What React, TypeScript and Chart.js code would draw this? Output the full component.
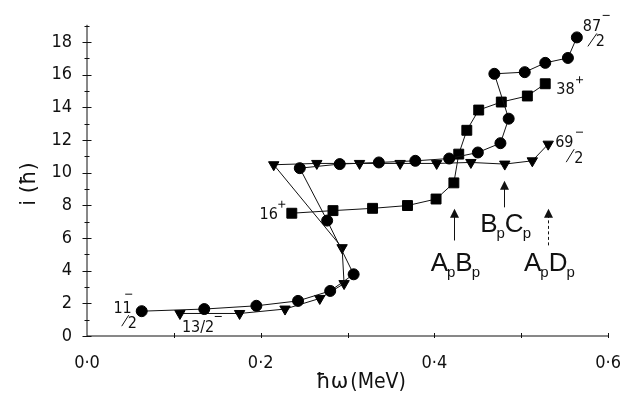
import React, { useEffect, useRef } from "react";
import { Chart, registerables } from "chart.js";

Chart.register(...registerables);

// ---- Data (alignment curves) ----
const circleX = [0.063, 0.135, 0.195, 0.243, 0.28, 0.307, 0.2765, 0.245, 0.291, 0.336, 0.378, 0.417, 0.45, 0.476, 0.4855, 0.469, 0.504, 0.5276, 0.5537, 0.564];
const circleY = [1.52, 1.65, 1.85, 2.15, 2.76, 3.78, 7.07, 10.28, 10.53, 10.63, 10.73, 10.87, 11.24, 11.81, 13.31, 16.06, 16.16, 16.73, 17.03, 18.29];

const triangleX = [0.107, 0.1757, 0.228, 0.268, 0.296, 0.2937, 0.215, 0.2646, 0.3138, 0.3605, 0.4026, 0.442, 0.481, 0.5127, 0.531];
const triangleY = [1.38, 1.38, 1.65, 2.3, 3.21, 5.41, 10.49, 10.57, 10.57, 10.57, 10.57, 10.63, 10.53, 10.73, 11.75];

const squareX = [0.2358, 0.2832, 0.3288, 0.369, 0.4019, 0.4224, 0.428, 0.4373, 0.451, 0.477, 0.507, 0.5276];
const squareY = [7.52, 7.68, 7.82, 7.99, 8.39, 9.38, 11.14, 12.6, 13.84, 14.33, 14.7, 15.45];

const xTickValues = [0, 0.2, 0.4, 0.6];
const xMinorTicks = [0.1, 0.3, 0.5];
const yTickValues = [0, 2, 4, 6, 8, 10, 12, 14, 16, 18];
const yMinorTicks = [1, 3, 5, 7, 9, 11, 13, 15, 17, 19];

// crossing arrows
const arrowFirst = ["A", "B", "A"];
const arrowSecond = ["B", "C", "D"];
const arrowX = [0.4224, 0.4802, 0.5306];
const arrowTail = [5.85, 7.88, 5.55];
const arrowTip = [7.79, 9.51, 7.79];
const arrowDashed = [false, false, true];
const arrowLabelY = [3.96, 6.34, 3.96];

const NARROW = '"Liberation Sans Narrow", "DejaVu Sans Condensed", "Liberation Sans", sans-serif';
const SANS = '"Liberation Sans", Arial, sans-serif';
const INK = "#111";

function line(ctx: CanvasRenderingContext2D, x1: number, y1: number, x2: number, y2: number) {
  ctx.beginPath();
  ctx.moveTo(x1, y1);
  ctx.lineTo(x2, y2);
  ctx.stroke();
}

function drawSign(ctx: CanvasRenderingContext2D, x: number, y: number, sign: string) {
  line(ctx, x - 3.5, y, x + 3.5, y);
  if (sign === "+") line(ctx, x, y - 3.5, x, y + 3.5);
}

const overlayPlugin = {
  id: "overlay",
  beforeDatasetsDraw(chart: any) {
    const { ctx, scales } = chart;
    const xs = scales.x;
    const ys = scales.y;
    const x0 = xs.getPixelForValue(0);
    const y0 = ys.getPixelForValue(0);
    ctx.save();
    ctx.strokeStyle = INK;
    ctx.lineWidth = 1;
    line(ctx, x0, y0, xs.getPixelForValue(0.6), y0);
    line(ctx, x0, y0, x0, ys.getPixelForValue(19) - 1);
    yTickValues.forEach((v) => {
      const p = Math.round(ys.getPixelForValue(v)) + 0.5;
      line(ctx, x0 - 4.5, p, x0 + 4.5, p);
    });
    yMinorTicks.forEach((v) => {
      const p = Math.round(ys.getPixelForValue(v)) + 0.5;
      line(ctx, x0 - 2.5, p, x0 + 2.5, p);
    });
    [...xTickValues.slice(1), ...xMinorTicks].forEach((v) => {
      const p = Math.round(xs.getPixelForValue(v)) + 0.5;
      line(ctx, p, y0 - 3, p, y0 + 2);
    });
    ctx.restore();
  },
  afterDraw(chart: any) {
    const { ctx, scales } = chart;
    const xs = scales.x;
    const ys = scales.y;
    const px = (v: number) => xs.getPixelForValue(v);
    const py = (v: number) => ys.getPixelForValue(v);
    ctx.save();
    ctx.fillStyle = INK;
    ctx.strokeStyle = INK;
    ctx.lineWidth = 1;

    // x axis title
    ctx.textBaseline = "alphabetic";
    ctx.textAlign = "left";
    {
      const f1 = '21px "DejaVu Sans", sans-serif';
      const f2 = "21px " + NARROW;
      ctx.font = f1;
      const w1 = ctx.measureText("ħω").width;
      ctx.font = f2;
      const w2 = ctx.measureText("(MeV)").width;
      const left = 361 - (w1 + w2 + 2) / 2;
      ctx.font = f1;
      ctx.fillText("ħω", left, 388);
      ctx.font = f2;
      ctx.fillText("(MeV)", left + w1 + 2, 388);
    }

    // y axis title
    ctx.save();
    ctx.translate(35, 184);
    ctx.rotate(-Math.PI / 2);
    ctx.textAlign = "center";
    ctx.font = '21px "DejaVu Sans", sans-serif';
    ctx.fillText("i (ħ)", 0, 0);
    ctx.restore();

    // band labels
    ctx.textAlign = "left";
    ctx.font = "16px " + NARROW;
    const tw = (s: string) => ctx.measureText(s).width;
    // 11/2-  (first circle)
    {
      const ax = px(circleX[0]);
      const ay = py(circleY[0]);
      const w = tw("11");
      ctx.fillText("11", ax - 10 - w, ay + 2);
      drawSign(ctx, ax - 13, ay - 17, "-");
      line(ctx, ax - 20, ay + 15, ax - 13, ay + 4);
      ctx.fillText("2", ax - 14, ay + 17);
    }
    // 13/2- (first triangle)
    {
      const ax = px(triangleX[0]);
      const ay = py(triangleY[0]);
      const w = tw("13/2");
      ctx.fillText("13/2", ax + 2, ay + 19);
      drawSign(ctx, ax + 6 + w, ay + 3, "-");
    }
    // 16+ (first square)
    {
      const ax = px(squareX[0]);
      const ay = py(squareY[0]);
      const w = tw("16");
      ctx.fillText("16", ax - 14 - w, ay + 6);
      drawSign(ctx, ax - 10, ay - 9, "+");
    }
    // 38+ (last square)
    {
      const ax = px(squareX[squareX.length - 1]);
      const ay = py(squareY[squareY.length - 1]);
      const w = tw("38");
      ctx.fillText("38", ax + 11, ay + 10);
      drawSign(ctx, ax + 16 + w, ay - 4, "+");
    }
    // 69/2- (last triangle)
    {
      const ax = px(triangleX[triangleX.length - 1]);
      const ay = py(triangleY[triangleY.length - 1]);
      const w = tw("69");
      ctx.fillText("69", ax + 7, ay + 3);
      drawSign(ctx, ax + 13 + w, ay - 12, "-");
      line(ctx, ax + 18, ay + 18, ax + 26, ay + 5);
      ctx.fillText("2", ax + 26, ay + 19);
    }
    // 87/2- (last circle)
    {
      const ax = px(circleX[circleX.length - 1]);
      const ay = py(circleY[circleY.length - 1]);
      const w = tw("87");
      ctx.fillText("87", ax + 6, ay - 6);
      drawSign(ctx, ax + 11 + w, ay - 22, "-");
      line(ctx, ax + 11, ay + 9, ax + 20, ay - 4);
      ctx.fillText("2", ax + 19, ay + 9);
    }

    // crossing arrows and labels
    arrowX.forEach((xv, i) => {
      const x = Math.round(px(xv)) + 0.5;
      const yt = py(arrowTail[i]);
      const yh = py(arrowTip[i]);
      ctx.save();
      if (arrowDashed[i]) ctx.setLineDash([3, 2.5]);
      line(ctx, x, yt, x, yh + 8);
      ctx.restore();
      ctx.beginPath();
      ctx.moveTo(x, yh);
      ctx.lineTo(x - 4.5, yh + 9);
      ctx.lineTo(x + 4.5, yh + 9);
      ctx.closePath();
      ctx.fill();

      const big = "26px " + SANS;
      const small = "15px " + SANS;
      ctx.font = big;
      const w1 = ctx.measureText(arrowFirst[i]).width;
      const w2 = ctx.measureText(arrowSecond[i]).width;
      ctx.font = small;
      const wp = ctx.measureText("p").width;
      const total = w1 + w2 + 2 * wp - 2;
      let lx = px(xv) + 1.5 - total / 2;
      const by = py(arrowLabelY[i]);
      ctx.font = big;
      ctx.fillText(arrowFirst[i], lx, by);
      lx += w1 - 1;
      ctx.font = small;
      ctx.fillText("p", lx, by + 6);
      lx += wp;
      ctx.font = big;
      ctx.fillText(arrowSecond[i], lx, by);
      lx += w2 - 1;
      ctx.font = small;
      ctx.fillText("p", lx, by + 6);
    });

    ctx.restore();
  },
};

function toPoints(xs: number[], ys: number[]) {
  return xs.map((x, i) => ({ x, y: ys[i] }));
}

export default function App() {
  const ref = useRef<HTMLCanvasElement | null>(null);
  useEffect(() => {
    if (!ref.current) return;
    const tickFont = { family: NARROW, size: 18 };
    const common = {
      showLine: true,
      borderColor: INK,
      borderWidth: 1,
      backgroundColor: "#000",
      pointBackgroundColor: "#000",
      pointBorderColor: "#000",
    };
    const chart = new Chart(ref.current, {
      type: "scatter",
      data: {
        datasets: [
          { ...common, data: toPoints(circleX, circleY), pointStyle: "circle", pointRadius: 5.5 },
          { ...common, data: toPoints(triangleX, triangleY), pointStyle: "triangle", rotation: 180, pointRadius: 6 },
          { ...common, data: toPoints(squareX, squareY), pointStyle: "rect", pointRadius: 7 },
        ],
      },
      options: {
        animation: false,
        responsive: true,
        maintainAspectRatio: false,
        devicePixelRatio: 1,
        layout: { padding: { top: 24, right: 15, left: 0, bottom: 0 } },
        plugins: { legend: { display: false }, tooltip: { enabled: false } },
        scales: {
          x: {
            type: "linear",
            min: 0,
            max: 0.6,
            afterBuildTicks: (s: any) => {
              s.ticks = xTickValues.map((v) => ({ value: v }));
            },
            afterFit: (s: any) => {
              s.height = 58;
            },
            grid: { display: false, drawTicks: false },
            border: { display: false },
            ticks: {
              autoSkip: false,
              maxRotation: 0,
              padding: 17,
              color: INK,
              font: tickFont,
              callback: (v: any) => Number(v).toFixed(1).replace(".", "·"),
            },
          },
          y: {
            type: "linear",
            min: 0,
            max: 19,
            afterBuildTicks: (s: any) => {
              s.ticks = yTickValues.map((v) => ({ value: v }));
            },
            afterFit: (s: any) => {
              s.width = 87;
            },
            grid: { display: false, drawTicks: false },
            border: { display: false },
            ticks: {
              padding: 15,
              color: INK,
              font: tickFont,
              callback: (v: any) => String(v),
            },
          },
        },
      },
      plugins: [overlayPlugin],
    } as any);
    return () => chart.destroy();
  }, []);
  return (
    <div style={{ position: "absolute", left: 0, top: 0, width: 638, height: 394, background: "#fff" }}>
      <canvas ref={ref} />
    </div>
  );
}
